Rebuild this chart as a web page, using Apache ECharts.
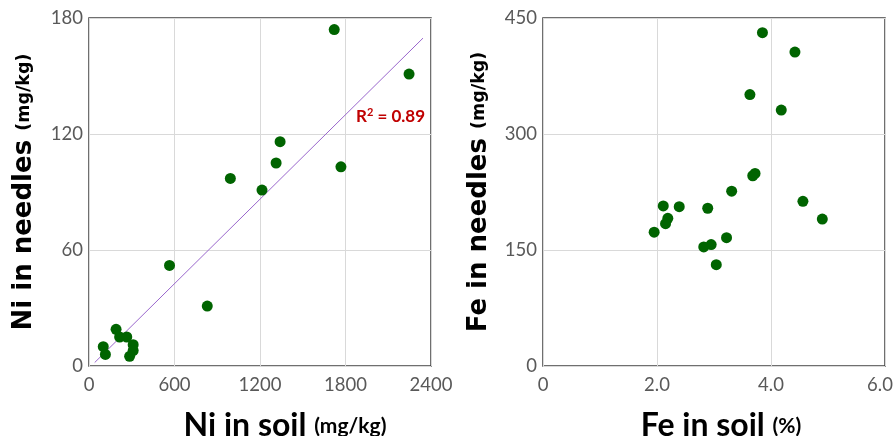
<!DOCTYPE html>
<html><head><meta charset="utf-8">
<script src="https://cdn.jsdelivr.net/npm/echarts@6/dist/echarts.min.js"></script>
<style>html,body{margin:0;padding:0;background:#fff}#c{width:894px;height:436px}</style>
</head><body><div id="c"></div>
<script>
// Left panel: Ni in soil (mg/kg) vs Ni in needles (mg/kg)
const niSoil    = [1721, 2246, 1341, 1313, 1768, 992, 1214, 565, 830, 190, 215, 265, 310, 310, 285, 100, 115];
const niNeedles = [174, 151, 116, 105, 103, 97, 91, 52, 31, 19, 15, 15, 11, 8, 5, 10, 6];
const niTrendX  = [40, 2344];
const niTrendY  = [1.8, 169.6];
const niR2 = '0.89';
// Right panel: Fe in soil (%) vs Fe in needles (mg/kg)
const feSoil    = [3.85, 4.42, 3.63, 4.18, 3.72, 3.68, 3.31, 4.56, 4.90, 2.11, 2.39, 2.89, 2.19, 2.15, 1.95, 3.22, 2.82, 2.95, 3.04];
const feNeedles = [431, 406, 351, 331, 249, 246, 226, 213, 190, 207, 206, 204, 191, 184, 173, 166, 154, 157, 131];
const niXTicks = {min: 0, max: 2400, interval: 600};
const niYTicks = {min: 0, max: 180, interval: 60};
const feXTicks = {min: 0, max: 6, interval: 2};
const feYTicks = {min: 0, max: 450, interval: 150};

const FONT = 'Lato';
const YFONT = 'DejaVu Sans';
const green = '#006400';
const gridBase = {show: true, borderColor: '#404040', borderWidth: 1.5, top: 18, height: 348,
                  containLabel: false, outerBoundsMode: 'none'};
const tickLabel = {color: '#595959', fontSize: 18.5, fontFamily: FONT};
const splitLine = {show: true, lineStyle: {color: '#d9d9d9', width: 1}};
function rich(font, b, s) {
  return {
    b: {fontFamily: font, fontWeight: 'bold', fontSize: b, color: '#000'},
    s: {fontFamily: font, fontWeight: 'bold', fontSize: s, color: '#000'}
  };
}
function xAxis(idx, t, main, unit, fmt, shift) {
  return {type: 'value', gridIndex: idx, min: t.min, max: t.max, interval: t.interval,
    axisLine: {show: false}, axisTick: {show: false}, splitLine,
    axisLabel: Object.assign({margin: 10, formatter: fmt,
      rich: {m: {fontFamily: FONT, fontSize: 18.5, color: '#595959', padding: [0, 10, 0, 0]}}}, tickLabel),
    name: '{b|' + main + ' }{s|' + unit + '}', nameLocation: 'middle', nameGap: 44,
    nameTextStyle: {rich: rich(FONT, 32, 21), padding: [0, 0, 0, shift]}};
}
function yAxis(idx, t, main, unit, gap) {
  return {type: 'value', gridIndex: idx, min: t.min, max: t.max, interval: t.interval,
    axisLine: {show: false}, axisTick: {show: false}, splitLine,
    axisLabel: Object.assign({margin: 6}, tickLabel),
    name: '{b|' + main + ' }{s|' + unit + '}', nameLocation: 'middle', nameGap: gap,
    nameTextStyle: {rich: rich(YFONT, 26, 17.5)}};
}
const chart = echarts.init(document.getElementById('c'));
chart.setOption({
  animation: false,
  grid: [Object.assign({left: 89, width: 342}, gridBase), Object.assign({left: 543, width: 342}, gridBase)],
  xAxis: [xAxis(0, niXTicks, 'Ni in soil', '(mg/kg)', v => String(v), 50),
          xAxis(1, feXTicks, 'Fe in soil', '(%)', v => v === 0 ? '0' : (v === 6 ? '{m|6.0}' : v.toFixed(1)), 14)],
  yAxis: [yAxis(0, niYTicks, 'Ni in needles', '(mg/kg)', 52),
          yAxis(1, feYTicks, 'Fe in needles', '(mg/kg)', 51)],
  series: [
    {type: 'line', xAxisIndex: 0, yAxisIndex: 0, data: niTrendX.map((x, i) => [x, niTrendY[i]]),
     symbol: 'none', lineStyle: {color: '#9966cc', width: 1}, z: 2, silent: true},
    {type: 'scatter', xAxisIndex: 0, yAxisIndex: 0, symbolSize: 11,
     itemStyle: {color: green, opacity: 1}, data: niSoil.map((x, i) => [x, niNeedles[i]]), z: 3},
    {type: 'scatter', xAxisIndex: 1, yAxisIndex: 1, symbolSize: 11,
     itemStyle: {color: green, opacity: 1}, data: feSoil.map((x, i) => [x, feNeedles[i]]), z: 3}
  ],
  graphic: [{type: 'text', left: 356, top: 107, style: {
    text: '{a|R}{sup|2}{a| = ' + niR2 + '}', rich: {
      a: {fontFamily: FONT, fontWeight: 'bold', fontSize: 17, fill: '#c00000'},
      sup: {fontFamily: FONT, fontWeight: 'bold', fontSize: 11, fill: '#c00000', verticalAlign: 'top', padding: [0, 0, 8, 0]}
    }}}]
});
</script></body></html>
